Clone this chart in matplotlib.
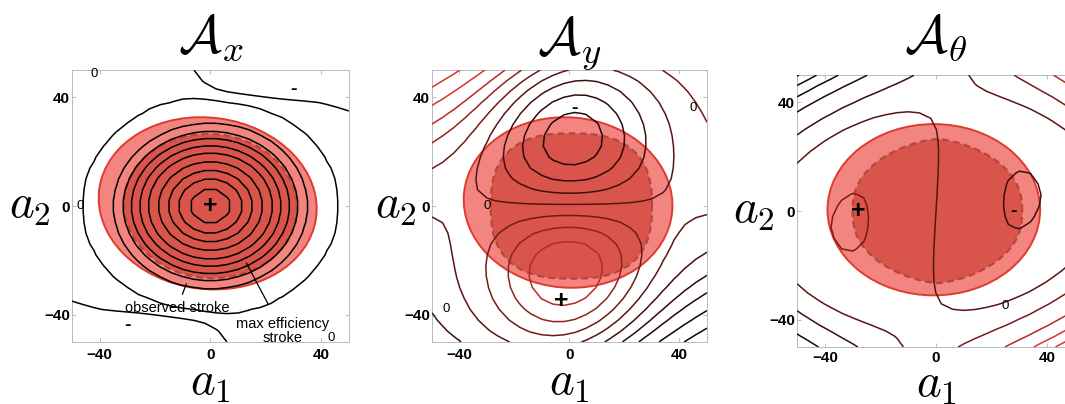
import numpy as np
import matplotlib.pyplot as plt
from matplotlib.patches import Ellipse, Polygon
from matplotlib.colors import LinearSegmentedColormap, Normalize

plt.rcParams['mathtext.fontset'] = 'cm'
plt.rcParams['font.family'] = ['Liberation Sans', 'DejaVu Sans']
plt.rcParams['contour.negative_linestyle'] = 'solid'

# shape space: joint angles in degrees (coarse grid, like the original)
a1 = np.linspace(-50, 50, 26)
a2 = np.linspace(-50, 50, 26)

titles = [r'$\mathcal{A}_x$', r'$\mathcal{A}_y$', r'$\mathcal{A}_\theta$']
tick_vals = [-40, 0, 40]

# contour levels of the three height functions
levels_x = [-1.2, 0, 5.9, 9.8, 13.6, 17.8, 22.1, 27.0, 31.6, 35.9, 40.6]
levels_y = [-30, -23, -17, -12, -8, -4, 0, 4, 8, 12, 17, 23, 30]
levels_t = [-126, -99, -72, -45, -18, 0, 18, 45, 72, 99, 126]

# height function shape parameters
x_zero_r, x_flat_r, x_aspect, x_floor = 46.0, 38.0, 0.87, 0.05
x_edge_amp, x_edge_bias, x_edge_pow = 2.5, 0.85, 8
y_width, y_loop_r, y_xscale, y_shear, y_offset = 38.0, 55.0, 0.71, 0.55, 0.6
t_width, t_loop_r, t_yscale, t_gauss_y, t_shear, t_tilt = 45.0, 60.0, 0.5, 1.3, 0.14, -0.08

# observed stroke (outer ellipse)
obs_cx = [-1.0, -0.5, -0.8]
obs_cy = [1.0, 1.3, 0.5]
obs_w = [79, 76, 76.5]
obs_h = [63, 62.6, 63]
obs_ang = [-8, -5, 0]

# max efficiency stroke (inner dashed curve)
eff_cx = [0.0, 0.7, 0.5]
eff_cy = [0.0, 0.0, 0.0]
eff_a = [31.3, 29.3, 30.5]
eff_b = [26.5, 26.7, 26.5]
eff_px = [2.0, 2.6, 1.5]
eff_py = [2.0, 2.6, 2.4]
eff_ang = [-5, 0, 0]

# sign and zero markers on the contour maps
sign_txt = [['+', '-', '-'], ['-', '+'], ['+', '-']]
sign_x = [[0, 30, -30], [2, -3], [-28, 28]]
sign_y = [[0, 43, -44], [36, -35], [0, 0]]
zero_x = [[-47, -42, 43.5], [-30, 45, -45], [25]]
zero_y = [[0, 48.5, -48.5], [0, 36, -38], [-35]]

axes_rect = [[0.0676, 0.1535, 0.260, 0.673],
             [0.4056, 0.1535, 0.2582, 0.673],
             [0.7484, 0.141, 0.261, 0.673]]
ylab_x = [-0.152, -0.13, -0.155]
xlab_y = [-0.15, -0.15, -0.14]
xtick_pad = [4, 4, 2.5]
title_y = [1.062, 1.055, 1.081]
line_lim = [None, 16, 60]

line_cmap = LinearSegmentedColormap.from_list('dk', ['#120404', '#3a0c0c', '#7a1c1a', '#d8322a'])


def superellipse(cx, cy, a, b, px, py, ang, n=200):
    t = np.linspace(0, 2 * np.pi, n)
    c, s = np.cos(t), np.sin(t)
    x = a * np.sign(c) * np.abs(c) ** (2 / px)
    y = b * np.sign(s) * np.abs(s) ** (2 / py)
    th = np.deg2rad(ang)
    xr = x * np.cos(th) - y * np.sin(th) + cx
    yr = x * np.sin(th) + y * np.cos(th) + cy
    return np.column_stack([xr, yr])


def main():
    X, Y = np.meshgrid(a1, a2)

    rho = np.hypot(X, Y / x_aspect)
    Ax = (x_zero_r - rho) * (np.exp(-(rho / x_flat_r) ** 4) + x_floor) \
        - x_edge_amp * (Y / 50.0) ** x_edge_pow * (x_edge_bias + np.tanh(X * Y / 400.0))

    xs = X - y_shear * Y
    r2s = (xs / y_xscale) ** 2 + Y ** 2
    r2 = (X / y_xscale) ** 2 + Y ** 2
    c1 = np.exp(-y_loop_r ** 2 / y_width ** 2) / y_loop_r ** 2
    Ay = -Y * (np.exp(-r2 / y_width ** 2) - c1 * r2s) + y_offset

    xt = X - t_shear * Y
    r2t = xt ** 2 + (Y / t_yscale) ** 2
    g2t = xt ** 2 + (Y / t_gauss_y) ** 2
    c2 = np.exp(-t_loop_r ** 2 / t_width ** 2) / t_loop_r ** 4
    At = -xt * (np.exp(-g2t / t_width ** 2) - c2 * r2t ** 2) + t_tilt * Y

    fields = [Ax, Ay, At]
    levels = [levels_x, levels_y, levels_t]

    fig = plt.figure(figsize=(10.65, 4.04), dpi=100)
    for i in range(3):
        ax = fig.add_axes(axes_rect[i])

        ax.add_patch(Ellipse((obs_cx[i], obs_cy[i]), obs_w[i], obs_h[i], angle=obs_ang[i],
                             facecolor='#f2857f', edgecolor='#e03a2e', lw=1.4, zorder=1))
        pts = superellipse(eff_cx[i], eff_cy[i], eff_a[i], eff_b[i], eff_px[i], eff_py[i], eff_ang[i])
        ax.add_patch(Polygon(pts, closed=True, facecolor='#d9544a', edgecolor='#b5463c',
                             lw=1.6, ls=(0, (3, 2)), zorder=2))

        if i == 0:
            ax.contour(a1, a2, fields[i], levels=levels[i], colors='k', linewidths=1.1, zorder=3)
        else:
            lim = line_lim[i]
            ax.contour(a1, a2, fields[i], levels=levels[i], cmap=line_cmap,
                       norm=Normalize(-lim, lim), linewidths=1.1, zorder=3)

        for s, sx, sy in zip(sign_txt[i], sign_x[i], sign_y[i]):
            fs = 18 if s == '+' else 14
            ax.text(sx, sy, s, ha='center', va='center', fontsize=fs, fontweight='bold', zorder=5)
        for zx, zy in zip(zero_x[i], zero_y[i]):
            ax.text(zx, zy, '0', ha='center', va='center', fontsize=9.5, zorder=5)

        ax.set_xlim(-50, 50)
        ax.set_ylim(-50, 50)
        ax.set_xticks(tick_vals)
        ax.set_yticks(tick_vals)
        ax.tick_params(direction='in', length=3, width=0.5, color='#9aa0b8',
                       labelsize=11, top=True, right=True)
        ax.tick_params(axis='x', pad=xtick_pad[i])
        ax.tick_params(axis='y', pad=1.5)
        for lab in ax.get_xticklabels() + ax.get_yticklabels():
            lab.set_fontweight('bold')
        for sp in ax.spines.values():
            sp.set_color('#a8aec4')
            sp.set_linewidth(0.6)

        ax.text(0.5, title_y[i], titles[i], transform=ax.transAxes, ha='center',
                va='baseline', fontsize=38)
        ax.set_xlabel(r'$a_1$', fontsize=34)
        ax.xaxis.set_label_coords(0.5, xlab_y[i])
        ax.xaxis.label.set_va('center')
        ax.set_ylabel(r'$a_2$', fontsize=34, rotation=0, va='center', ha='center')
        ax.yaxis.set_label_coords(ylab_x[i], 0.5)

        if i == 0:
            ax.annotate('observed stroke', xy=(-8.7, -28.6), xytext=(-12, -37.5),
                        ha='center', va='center', fontsize=10.5, zorder=6,
                        arrowprops=dict(arrowstyle='-', lw=0.9, color='k', shrinkA=3, shrinkB=0))
            ax.annotate('max efficiency\nstroke', xy=(13, -21), xytext=(26, -46),
                        ha='center', va='center', fontsize=10.5, zorder=6, linespacing=1.0,
                        arrowprops=dict(arrowstyle='-', lw=0.9, color='k', shrinkA=8, shrinkB=0))

    fig.savefig('out.png', dpi=100)


if __name__ == '__main__':
    main()
